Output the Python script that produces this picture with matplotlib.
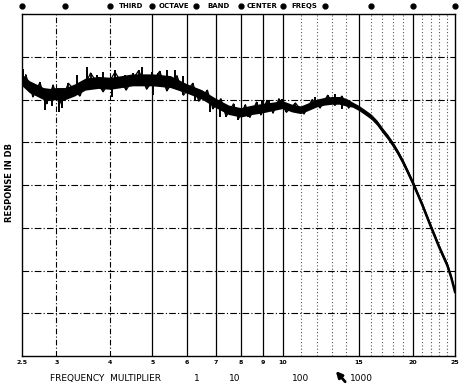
import numpy as np
from matplotlib import pyplot as plt

# response trace (frequency, dB)
CURVE_F = [2.5, 2.6, 2.7, 2.8, 2.9, 3.0, 3.15, 3.3, 3.5, 3.75, 4.0, 4.25, 4.5, 5.0, 5.5,
           6.0, 6.5, 7.0, 7.5, 8.0, 8.5, 9.0, 10, 10.5, 11, 11.5, 12, 12.5, 13, 13.5,
           14, 14.5, 15, 15.5, 16, 16.5, 17, 17.5, 18, 18.5, 19, 19.5, 20, 21, 22,
           23, 24, 24.5, 25]
CURVE_DB = [32.3, 31.5, 31.1, 30.7, 30.6, 30.7, 30.7, 31.1, 31.8, 32.0, 31.9, 32.1, 32.3, 32.3, 32.1,
            31.3, 30.6, 29.6, 28.8, 28.5, 28.8, 29.0, 29.4, 29.0, 28.8, 29.2, 29.6, 29.8, 29.9, 29.9,
            29.7, 29.4, 29.0, 28.5, 28.0, 27.3, 26.4, 25.6, 24.7, 23.7, 22.6, 21.4, 20.2, 17.7, 15.1,
            12.7, 10.6, 9.2, 7.5]
# half thickness of the trace
BAND_DB = [0.7] * 15 + [0.55] * 7 + [0.45] * 9 + [0.3] * 18

# ragged edge of the noisy part of the trace
JITTER_F = [2.55, 2.65, 2.75, 2.85, 2.95, 3.05, 3.2, 3.4, 3.6, 3.85, 4.1, 4.35, 4.65, 4.85,
            5.2, 5.4, 5.7, 5.9, 6.2, 6.4, 6.7, 6.9, 7.2, 7.4, 7.7, 7.9, 8.2, 8.4, 8.7, 8.9,
            9.2, 9.5, 9.8, 10.2, 10.7, 11.2, 11.7, 12.2, 12.7, 13.2, 13.7, 14.2]
JITTER_DB = [32.9, 30.3, 32.0, 29.5, 31.7, 29.4, 31.9, 30.4, 33.1, 30.9, 33.2, 31.1, 33.4, 31.2,
             33.3, 31.0, 32.8, 30.5, 31.9, 29.8, 31.1, 28.9, 30.1, 28.0, 29.5, 27.7, 29.4, 27.9,
             29.7, 28.2, 29.9, 28.4, 30.1, 28.5, 29.6, 28.3, 30.0, 29.0, 30.5, 29.3, 30.4, 29.0]

# noise spikes
SPIKE_F = [2.51, 2.83, 2.93, 3.04, 3.09, 3.35, 3.53, 3.73, 3.85, 4.03, 4.10, 4.32, 4.51, 4.73,
           4.99, 5.02, 5.15, 5.40, 5.64, 5.88, 6.28, 6.80, 7.17, 7.88, 8.33, 8.95, 9.30, 9.96,
           10.96, 11.88, 13.2, 13.7]
SPIKE_DB = [33.6, 28.8, 29.2, 28.5, 29.0, 32.9, 33.8, 32.9, 33.2, 30.3, 33.5, 32.9, 33.1, 33.8,
            33.2, 30.5, 33.1, 33.5, 33.5, 32.7, 29.9, 28.5, 28.0, 27.6, 28.0, 29.9, 29.8, 30.1,
            28.4, 30.3, 30.6, 28.9]

TICKS = [2.5, 3, 4, 5, 6, 7, 8, 9, 10, 15, 20, 25]
TICK_LABELS = ['2.5', '3', '4', '5', '6', '7', '8', '9', '10', '15', '20', '25']
THIRD_OCT = [2.5, 3.15, 4, 5, 6.3, 8, 10, 12.5, 16, 20, 25]
TOP_WORDS = ['THIRD', 'OCTAVE', 'BAND', 'CENTER', 'FREQS']
TOP_WORD_X = [4.47, 5.6, 7.1, 8.94, 11.2]
MULTIPLIERS = ['1', '10', '100', '1000']

fig = plt.figure(figsize=(4.65, 3.85), dpi=100)
ax = fig.add_axes([0.0473, 0.0753, 0.9312, 0.8883])
ax.set_xscale('log')
ax.set_xlim(2.5, 25)
ax.set_ylim(0, 40)

# grid
for v in range(3, 25):
    if v in (3, 4):
        ax.axvline(v, color='black', lw=0.8, ls=(0, (5, 2, 1, 2)), zorder=1)
    elif v <= 10 or v in (15, 20):
        ax.axvline(v, color='black', lw=0.9, zorder=1)
    else:
        ax.axvline(v, color='#555555', lw=0.8, ls=(0, (1, 2)), zorder=1)
for h in range(5, 40, 5):
    ax.axhline(h, color='black', lw=0.8, ls=(0, (6, 2, 1, 2)), zorder=1)

cf = np.array(CURVE_F)
cd = np.array(CURVE_DB)
bd = np.array(BAND_DB)
ax.fill_between(cf, cd - bd, cd + bd, color='black', lw=0, zorder=3)
ax.plot(cf, cd, color='black', lw=1.8, zorder=3)
ax.plot(JITTER_F, JITTER_DB, color='black', lw=0.9, zorder=3)
jbase = np.interp(np.log10(JITTER_F), np.log10(cf), cd)
ax.vlines(JITTER_F, jbase, JITTER_DB, color='black', lw=1.3, zorder=3)
base = np.interp(np.log10(SPIKE_F), np.log10(cf), cd)
ax.vlines(SPIKE_F, base, SPIKE_DB, color='black', lw=1.4, zorder=3)

ax.set_xticks(TICKS)
ax.set_xticklabels(TICK_LABELS, fontsize=4.5, fontweight='bold')
ax.xaxis.set_minor_locator(plt.NullLocator())
ax.tick_params(axis='x', length=0, pad=3)
ax.set_yticks([])
for s in ax.spines.values():
    s.set_linewidth(1.0)

# third octave dots and words above the plot
ax.plot(THIRD_OCT, [1.023] * len(THIRD_OCT), 'o', color='black', ms=3.5,
        transform=ax.get_xaxis_transform(), clip_on=False)
for w, x in zip(TOP_WORDS, TOP_WORD_X):
    ax.text(x, 1.023, w, transform=ax.get_xaxis_transform(), ha='center', va='center',
            fontsize=5, fontweight='bold')

fig.text(10 / 465, 0.525, 'RESPONSE IN DB', rotation=90, ha='center', va='center',
         fontsize=6, fontweight='bold')
fig.text(105 / 465, 0.018, 'FREQUENCY  MULTIPLIER', ha='center', va='center', fontsize=6.5)
for m, x in zip(MULTIPLIERS, [197, 235, 301, 361]):
    fig.text(x / 465, 0.018, m, ha='center', va='center', fontsize=6.5)
ax.annotate('', xy=(334 / 465, 1 - 369 / 385), xytext=(347 / 465, 0.003),
            xycoords='figure fraction', textcoords='figure fraction',
            arrowprops=dict(arrowstyle='-|>', lw=2, color='black', mutation_scale=9))

plt.savefig('out.png', dpi=100)
